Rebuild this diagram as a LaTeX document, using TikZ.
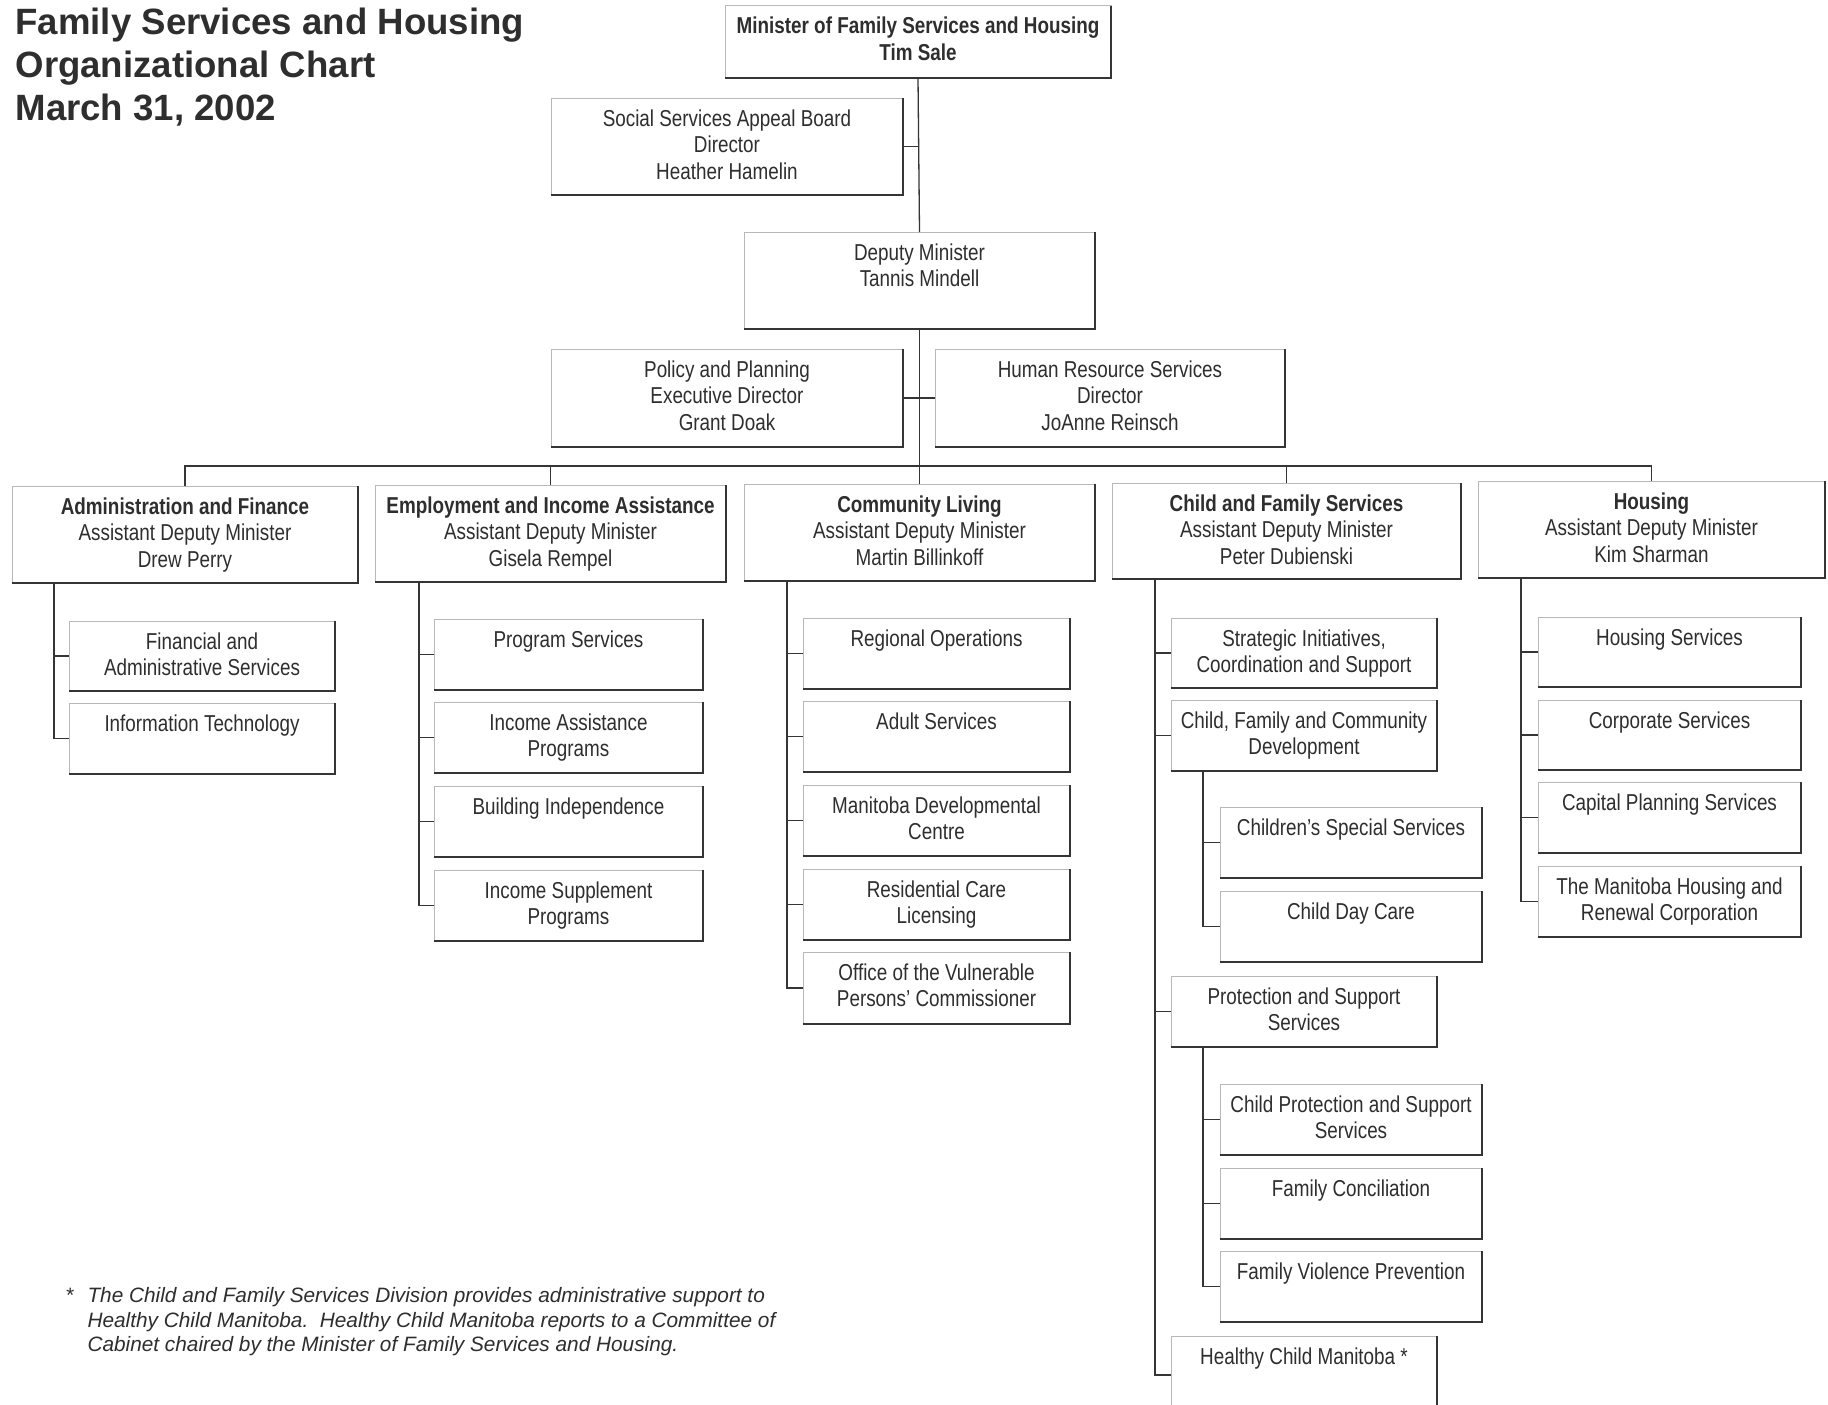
\documentclass[tikz,border=0pt]{standalone}
\usepackage{fontspec}
\setmainfont{Liberation Sans}[FakeStretch=0.82]
\newfontfamily\titlefont{Liberation Sans}
\definecolor{ink}{HTML}{2E2E2E}
\definecolor{edgeink}{HTML}{353535}
\definecolor{lite}{HTML}{B8B8B8}
\tikzset{
  orgnode/.style={draw=lite, line width=1pt, fill=white, inner sep=0pt, outer sep=0pt, text=ink},
  conn/.style={draw=edgeink, line width=1.3pt},
  shadowedge/.style={draw=edgeink, line width=2.8pt}
}
\newcommand\orgbox[6]{%
  \pgfmathsetmacro\obw{#3-#2}%
  \pgfmathsetmacro\obh{#5-#4}%
  \node[orgnode] (#1) at ({(#2+#3)/2},{(#4+#5)/2}) {\begin{minipage}[c][\obh pt][t]{\obw pt}\centering\fontsize{23}{26.8}\selectfont\rule{0pt}{28pt}#6\end{minipage}};%
  \draw[shadowedge] (#1.north east) -- (#1.south east) -- (#1.south west);%
}
\begin{document}
\begin{tikzpicture}[x=1pt,y=-1pt]
\useasboundingbox[fill=white] (0,0) rectangle (1828,1405);

\node[anchor=west, align=left, text=ink, font={\titlefont\bfseries\fontsize{36.6}{43}\selectfont}] (title) at (12,67) {Family Services and Housing\\Organizational Chart\\March 31, 2002};

% top levels
\orgbox{min}{725}{1111}{6}{78}{\textbf{Minister of Family Services and Housing}\\\textbf{Tim Sale}}
\orgbox{ssab}{551}{903}{98}{195}{Social Services Appeal Board\\Director\\Heather Hamelin}
\orgbox{dm}{744}{1095}{232}{329}{Deputy Minister\\Tannis Mindell}
\orgbox{pp}{551}{903}{349}{447}{Policy and Planning\\Executive Director\\Grant Doak}
\orgbox{hr}{935}{1285}{349}{447}{Human Resource Services\\Director\\JoAnne Reinsch}

% ADM level
\orgbox{af}{12}{358}{486}{583}{\textbf{Administration and Finance}\\Assistant Deputy Minister\\Drew Perry}
\orgbox{eia}{375}{726}{485}{582}{\textbf{Employment and Income Assistance}\\Assistant Deputy Minister\\Gisela Rempel}
\orgbox{cl}{744}{1095}{484}{581}{\textbf{Community Living}\\Assistant Deputy Minister\\Martin Billinkoff}
\orgbox{cfs}{1112}{1461}{483}{579}{\textbf{Child and Family Services}\\Assistant Deputy Minister\\Peter Dubienski}
\orgbox{hs}{1478}{1825}{481}{578}{\textbf{Housing}\\Assistant Deputy Minister\\Kim Sharman}

% Administration and Finance
\orgbox{fas}{69}{335}{621}{691}{Financial and\\Administrative Services}
\orgbox{it}{69}{335}{703}{774}{Information Technology}

% Employment and Income Assistance
\orgbox{ps}{434}{703}{619}{690}{Program Services}
\orgbox{iap}{434}{703}{702}{773}{Income Assistance\\Programs}
\orgbox{bi}{434}{703}{786}{857}{Building Independence}
\orgbox{isp}{434}{703}{870}{941}{Income Supplement\\Programs}

% Community Living
\orgbox{ro}{803}{1070}{618}{689}{Regional Operations}
\orgbox{adult}{803}{1070}{701}{772}{Adult Services}
\orgbox{mdc}{803}{1070}{785}{856}{Manitoba Developmental\\Centre}
\orgbox{rcl}{803}{1070}{869}{940}{Residential Care\\Licensing}
\orgbox{ovpc}{803}{1070}{952}{1024}{Office of the Vulnerable\\Persons' Commissioner}

% Child and Family Services
\orgbox{sics}{1171}{1437}{618}{688}{Strategic Initiatives,\\Coordination and Support}
\orgbox{cfcd}{1171}{1437}{700}{771}{Child, Family and Community\\Development}
\orgbox{css}{1220}{1482}{807}{878}{Children's Special Services}
\orgbox{cdc}{1220}{1482}{891}{962}{Child Day Care}
\orgbox{pss}{1171}{1437}{976}{1047}{Protection and Support\\Services}
\orgbox{cpss}{1220}{1482}{1084}{1155}{Child Protection and Support\\Services}
\orgbox{fc}{1220}{1482}{1168}{1239}{Family Conciliation}
\orgbox{fvp}{1220}{1482}{1251}{1322}{Family Violence Prevention}
\orgbox{hcm}{1171}{1437}{1336}{1414}{Healthy Child Manitoba *}

% Housing
\orgbox{hsv}{1538}{1801}{617}{687}{Housing Services}
\orgbox{corp}{1538}{1801}{700}{770}{Corporate Services}
\orgbox{cps}{1538}{1801}{782}{853}{Capital Planning Services}
\orgbox{mhrc}{1538}{1801}{866}{937}{The Manitoba Housing and\\Renewal Corporation}

% connectors, top
\coordinate (bus) at (919.5,466);
\draw[conn] (min.south) -- (dm.north);
\draw[conn] (ssab.east) -- (ssab.east -| min.south);
\draw[conn] (dm.south) -- (pp.east -| dm.south);
\draw[conn] (pp.east -| dm.south) -- (bus);
\draw[conn] (pp.east) -- (hr.west);
\draw[conn] (af.north) -- (af.north |- bus) -- (hs.north |- bus) -- (hs.north);
\foreach \n in {eia,cl,cfs} \draw[conn] (\n.north) -- (\n.north |- bus);

% column spines
\coordinate (colA) at (54,0);
\coordinate (colE) at (419,0);
\coordinate (colC) at (787,0);
\coordinate (colF) at (1155,0);
\coordinate (colG) at (1203,0);
\coordinate (colH) at (1521,0);

\draw[conn] (af.south -| colA) -- (colA |- it.west) -- (it.west);
\draw[conn] (fas.west) -- (fas.west -| colA);

\draw[conn] (eia.south -| colE) -- (colE |- isp.west) -- (isp.west);
\foreach \n in {ps,iap,bi} \draw[conn] (\n.west) -- (\n.west -| colE);

\draw[conn] (cl.south -| colC) -- (colC |- ovpc.west) -- (ovpc.west);
\foreach \n in {ro,adult,mdc,rcl} \draw[conn] (\n.west) -- (\n.west -| colC);

\draw[conn] (cfs.south -| colF) -- (colF |- hcm.west) -- (hcm.west);
\foreach \n in {sics,cfcd,pss} \draw[conn] (\n.west) -- (\n.west -| colF);

\draw[conn] (cfcd.south -| colG) -- (colG |- cdc.west) -- (cdc.west);
\draw[conn] (css.west) -- (css.west -| colG);

\draw[conn] (pss.south -| colG) -- (colG |- fvp.west) -- (fvp.west);
\foreach \n in {cpss,fc} \draw[conn] (\n.west) -- (\n.west -| colG);

\draw[conn] (hs.south -| colH) -- (colH |- mhrc.west) -- (mhrc.west);
\foreach \n in {hsv,corp,cps} \draw[conn] (\n.west) -- (\n.west -| colH);

% footnote
\node[anchor=north west, align=left, text=ink, font={\titlefont\itshape\fontsize{20.8}{24.5}\selectfont}] (note) at (84,1284) {\llap{*\hspace{14pt}}The Child and Family Services Division provides administrative support to\\Healthy Child Manitoba.\ \ Healthy Child Manitoba reports to a Committee of\\Cabinet chaired by the Minister of Family Services and Housing.};
\end{tikzpicture}
\end{document}
